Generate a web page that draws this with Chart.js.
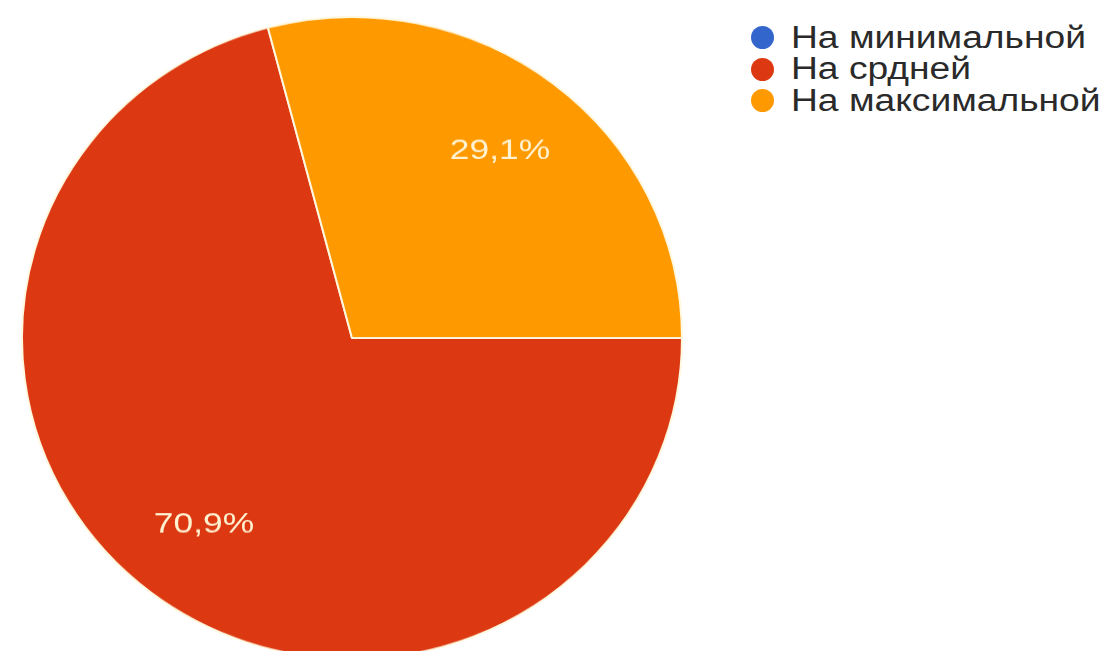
<!DOCTYPE html>
<html>
<head>
<meta charset="utf-8">
<script src="https://cdn.jsdelivr.net/npm/chart.js@4"></script>
<style>
  html, body { margin: 0; padding: 0; background: #fff; overflow: hidden; width: 1117px; height: 651px; }
  #pie { position: absolute; left: 21px; top: 16px; width: 662px !important; height: 644px !important; }
  .legend { position: absolute; left: 751px; top: 22px; font-family: "Liberation Sans", Arial, sans-serif; font-size: 31px; color: #2a2a2a; }
  .item { display: flex; align-items: center; height: 31.5px; white-space: nowrap; }
  .dot { width: 23px; height: 23px; border-radius: 50%; margin-right: 17px; flex: none; }
  .txt { display: inline-block; transform: scaleX(1.2); transform-origin: left center; }
</style>
</head>
<body>
<canvas id="pie" width="662" height="662"></canvas>
<div class="legend" id="legend"></div>
<script>
const labels = ['На минимальной', 'На срдней', 'На максимальной'];
const values = [0, 70.9, 29.1];
const shownLabels = ['', '70,9%', '29,1%'];
const colors = ['#3366cc', '#dc3912', '#ff9900'];

// html legend
const legend = document.getElementById('legend');
labels.forEach((label, i) => {
  const item = document.createElement('div');
  item.className = 'item';
  item.innerHTML = '<span class="dot" style="background:' + colors[i] + '"></span><span class="txt">' + label + '</span>';
  legend.appendChild(item);
});

// percent labels inside slices
const sliceLabels = {
  id: 'sliceLabels',
  afterDatasetsDraw(chart) {
    const ctx = chart.ctx;
    const meta = chart.getDatasetMeta(0);
    meta.data.forEach((arc, i) => {
      if (!shownLabels[i]) return;
      const p = arc.getProps(['x', 'y', 'startAngle', 'endAngle', 'outerRadius'], true);
      const mid = (p.startAngle + p.endAngle) / 2;
      const r = p.outerRadius * 0.735;
      ctx.save();
      ctx.translate(p.x + Math.cos(mid) * r, p.y + Math.sin(mid) * r);
      ctx.scale(1.18, 1);
      ctx.fillStyle = '#fff3d2';
      ctx.font = '30px "Liberation Sans", Arial, sans-serif';
      ctx.textAlign = 'center';
      ctx.textBaseline = 'middle';
      ctx.fillText(shownLabels[i], 0, 0);
      ctx.restore();
    });
  }
};

new Chart(document.getElementById('pie'), {
  type: 'pie',
  data: {
    labels: labels,
    datasets: [{
      data: values,
      backgroundColor: colors,
      borderColor: '#fff8e0',
      borderWidth: 2
    }]
  },
  options: {
    responsive: false,
    animation: false,
    rotation: 90,
    layout: { padding: 0 },
    plugins: {
      legend: { display: false },
      tooltip: { enabled: false }
    }
  },
  plugins: [sliceLabels]
});
</script>
</body>
</html>
